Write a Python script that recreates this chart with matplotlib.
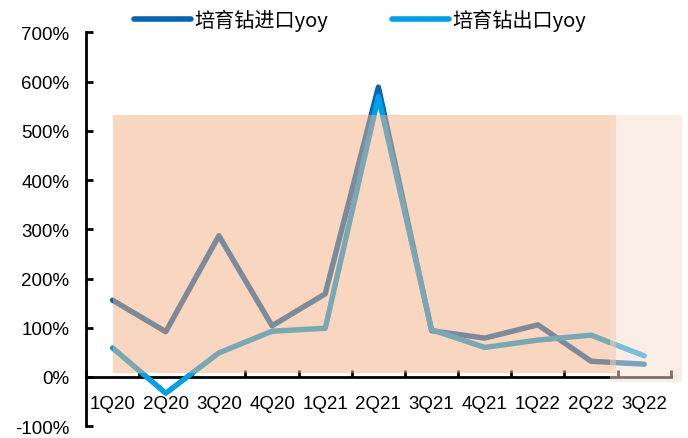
import matplotlib
matplotlib.use("Agg")
import matplotlib.pyplot as plt
from matplotlib.patches import Rectangle
from matplotlib.ticker import FuncFormatter

plt.rcParams['font.family'] = ['Liberation Sans', 'Noto Sans CJK SC', 'DejaVu Sans']

quarters = ["1Q20", "2Q20", "3Q20", "4Q20", "1Q21", "2Q21", "3Q21", "4Q21", "1Q22", "2Q22", "3Q22"]
import_yoy = [156, 92, 287, 104, 169, 589, 94, 79, 106, 32, 26]
export_yoy = [59, -33, 49, 93, 99, 570, 96, 60, 75, 85, 43]
series_names = ["培育钻进口yoy", "培育钻出口yoy"]
ytick_values = [-100, 0, 100, 200, 300, 400, 500, 600, 700]

c_import = "#0565B2"
c_export = "#00A0E6"

fig = plt.figure(figsize=(6.88, 4.39), dpi=100)
ax = fig.add_axes([0.125, 0.0269, 0.85, 0.8968])

x = list(range(len(quarters)))
lw = 3.9
l1, = ax.plot(x, import_yoy, color=c_import, lw=lw, solid_capstyle='round',
              solid_joinstyle='round', zorder=3, label=series_names[0])
l2, = ax.plot(x, export_yoy, color=c_export, lw=lw, solid_capstyle='round',
              solid_joinstyle='round', zorder=4, label=series_names[1])

ax.set_xlim(-0.5, len(quarters) - 0.5)
ax.set_ylim(-100, 700)
ax.set_yticks(ytick_values)
ax.yaxis.set_major_formatter(FuncFormatter(lambda v, p: f"{int(v)}%"))
ax.set_xticks([i + 0.5 for i in range(-1, len(quarters))], minor=False)
ax.set_xticklabels([])
ax.set_xticks(x, minor=True)
ax.set_xticklabels(quarters, minor=True)

for s in ["top", "right"]:
    ax.spines[s].set_visible(False)
ax.spines["bottom"].set_position(("data", 0))
ax.spines["bottom"].set_linewidth(2)
ax.spines["left"].set_linewidth(2)
ax.spines["left"].set_bounds(-100, 700)

ax.tick_params(axis='y', direction='in', length=5, width=2, pad=12, labelsize=13.5, colors='black')
ax.tick_params(axis='x', which='major', direction='in', length=5, width=2)
ax.tick_params(axis='x', which='minor', length=0, pad=13, labelsize=13.5)

# highlight boxes
ax.add_patch(Rectangle((0.0, 8), 9.47, 525, transform=ax.transData,
                       facecolor="#F3AF83", alpha=0.5, edgecolor='none',
                       zorder=6, clip_on=False))
ax.add_patch(Rectangle((9.35, -10), 1.36, 543, transform=ax.transData,
                       facecolor="#F5DDCF", alpha=0.5, edgecolor='none',
                       zorder=6, clip_on=False))

leg = fig.legend(handles=[l1, l2], labels=series_names, loc='center',
                 bbox_to_anchor=(0.523, 0.953), ncol=2, frameon=False,
                 prop={'family': ['Noto Sans CJK SC', 'DejaVu Sans'], 'size': 14.5},
                 handlelength=2.83, handletextpad=0.15, columnspacing=3.2)
for h in leg.get_lines():
    h.set_linewidth(4)
    h.set_solid_capstyle('round')

fig.savefig("out.png", dpi=100)
